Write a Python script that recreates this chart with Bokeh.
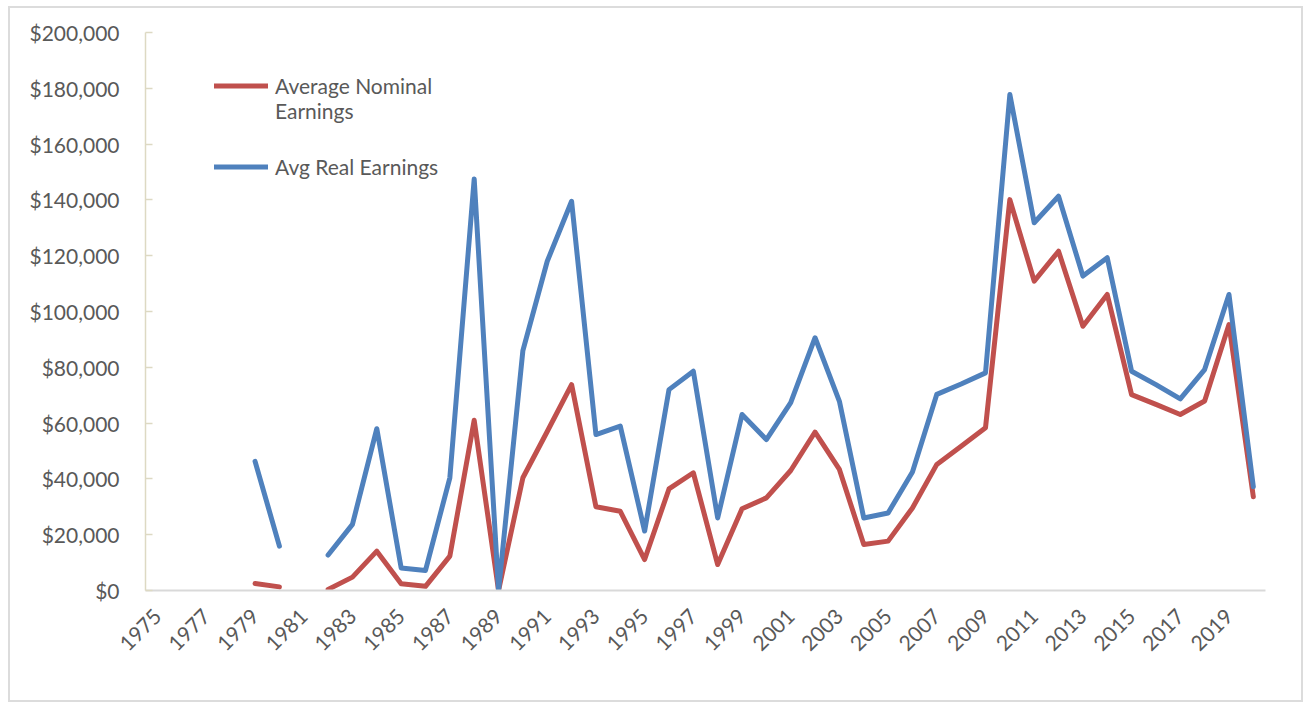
import math
from bokeh.plotting import figure
from bokeh.models import (Range1d, FixedTicker, NumeralTickFormatter, Legend,
                          LegendItem, ColumnDataSource)
from bokeh.embed import file_html
from bokeh.resources import INLINE

nan = float("nan")

years = list(range(1975, 2021))
tick_years = years[::2]

nominal = [nan, nan, nan, nan, 2500, 1300, nan, 400, 4800, 14100,
           2400, 1500, 12300, 61000, 0, 40400, 57000, 73800, 30000, 28400,
           11100, 36400, 42200, 9300, 29300, 33200, 43000, 56800, 43400, 16500,
           17700, 29600, 45200, 51700, 58300, 140100, 110900, 121600, 94700, 106100,
           70200, 66700, 63100, 67900, 95300, 33600]

real = [nan, nan, nan, nan, 46300, 15900, nan, 12700, 23700, 58000,
        8100, 7200, 40400, 147500, 0, 86000, 118000, 139500, 55900, 58900,
        21300, 72000, 78600, 26000, 63100, 54100, 67300, 90600, 67800, 26000,
        27800, 42500, 70300, 74000, 78000, 177800, 131800, 141300, 112700, 119300,
        78600, 73800, 68700, 79200, 106100, 37200]

y_ticks = [0, 20000, 40000, 60000, 80000, 100000, 120000, 140000, 160000, 180000, 200000]

label_nominal = "Average Nominal"
label_nominal2 = "Earnings"
label_real = "Avg Real Earnings"

RED = "#c0504d"
BLUE = "#4f81bd"
TXT = "#595959"
FONT = "Lato"

p = figure(frame_width=1120, frame_height=558, output_backend="svg",
           toolbar_location=None, min_border_left=135, min_border_top=24,
           min_border_right=36, min_border_bottom=110,
           x_range=Range1d(years[0] - 0.5, years[-1] + 0.5),
           y_range=Range1d(y_ticks[0], y_ticks[-1]))
p.margin = (6, 0, 0, 8)
p.styles = {"border": "2px solid #dcdcdc"}
p.outline_line_color = None
p.xgrid.grid_line_color = None
p.ygrid.grid_line_color = None
p.background_fill_color = "white"
p.border_fill_color = "white"

src = ColumnDataSource(dict(year=years, nominal=nominal, real=real))
r_nom = p.line("year", "nominal", source=src, line_color=RED, line_width=5,
               line_join="round", line_cap="round")
r_real = p.line("year", "real", source=src, line_color=BLUE, line_width=5,
                line_join="round", line_cap="round")
r_dummy = p.line(x=[], y=[], line_alpha=0)

# y axis
ya = p.yaxis[0]
ya.ticker = FixedTicker(ticks=y_ticks)
ya.formatter = NumeralTickFormatter(format="$0,0")
ya.axis_line_color = "#ddd9c3"
ya.axis_line_width = 1.5
ya.major_tick_line_color = "#ddd9c3"
ya.major_tick_line_width = 1.5
ya.major_tick_in = 7
ya.major_tick_out = 0
ya.minor_tick_line_color = None
ya.major_label_standoff = 26
ya.major_label_text_font = FONT
ya.major_label_text_font_size = "21px"
ya.major_label_text_color = TXT

# x axis
xa = p.xaxis[0]
xa.ticker = FixedTicker(ticks=tick_years)
xa.axis_line_color = "#d9d9d9"
xa.axis_line_width = 2
xa.major_tick_line_color = None
xa.minor_tick_line_color = None
xa.major_tick_in = 0
xa.major_tick_out = 0
xa.major_label_orientation = math.pi / 4
xa.major_label_standoff = 22
xa.major_label_text_font = FONT
xa.major_label_text_font_size = "21px"
xa.major_label_text_color = TXT


def make_legend(items, loc):
    lg = Legend(items=items, location=loc, orientation="vertical",
                glyph_width=54, glyph_height=23, label_height=23,
                label_standoff=7, spacing=0, padding=0, margin=0,
                background_fill_alpha=0, border_line_color=None,
                label_text_font=FONT, label_text_font_size="21px",
                label_text_color=TXT)
    return lg


leg_a = make_legend([LegendItem(label=label_nominal, renderers=[r_nom]),
                     LegendItem(label=label_nominal2, renderers=[r_dummy])],
                    (69, 467))
leg_b = make_legend([LegendItem(label=label_real, renderers=[r_real])],
                    (69, 411))
p.add_layout(leg_a, "center")
p.add_layout(leg_b, "center")

open("out.html", "w").write(file_html(p, INLINE))
